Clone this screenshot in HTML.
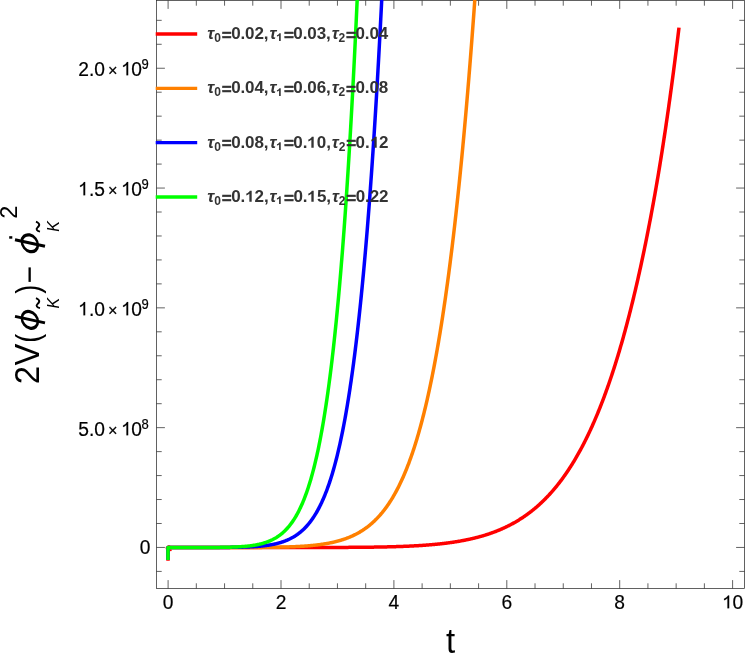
<!DOCTYPE html>
<html><head><meta charset="utf-8"><title>plot</title>
<style>
html,body{margin:0;padding:0;background:#fff;}
#w{position:absolute;left:0;top:0;width:747px;height:655px;will-change:transform}
body{width:747px;height:655px;position:relative;overflow:hidden;font-family:"Liberation Sans",sans-serif;color:#000;}
.leg{position:absolute;left:207.3px;font-weight:bold;font-size:17px;line-height:20px;height:20px;margin-top:-10.0px;color:#333;white-space:nowrap;letter-spacing:-0.1px}
.g1{width:0.5562em;height:0.75em;vertical-align:baseline;overflow:visible;position:relative;top:-0.45px}
.leg i{font-style:italic}
.leg .eq{margin-left:1.0px;margin-right:-0.45px;position:relative;top:1.5px;-webkit-text-stroke:0.45px #333}
.leg .cm{margin-right:1px}
.leg .sb{font-size:12px;position:relative;top:2.9px;}
.yt{position:absolute;right:598.3px;font-size:19.2px;line-height:20px;height:20px;margin-top:-8.05px;white-space:nowrap;-webkit-text-stroke:0.2px #000;transform:scaleY(1.065);transform-origin:50% 16.4px}
.yt .sp{font-size:13px;position:relative;top:-6.7px;margin-left:-0.4px}
.yt .o1{letter-spacing:-1.2px}
.yt .tx{padding:0 3.55px 0 3.0px;font-size:0.85em;position:relative;top:0px}
.xt{position:absolute;top:592.5px;width:60px;margin-left:-30px;text-align:center;font-size:19.2px;line-height:20px;-webkit-text-stroke:0.2px #000;transform:scaleY(1.035);transform-origin:50% 16.4px}
.xlab{position:absolute;left:420.6px;width:60px;text-align:center;top:623.9px;font-size:33px;line-height:36px;transform:scale(1,1.045);transform-origin:50% 31.7px}
.ylab{position:absolute;left:0;top:0;transform-origin:0 0;transform:translate(39.3px,384px) rotate(-90deg);font-size:32.5px;line-height:36px;height:36px;margin-top:0;white-space:nowrap}
</style></head><body><div id="w">
<svg width="747" height="655" viewBox="0 0 747 655" style="position:absolute;left:0;top:0">
<path d="M168.10,588.5 v-8.4 M168.10,0.5 v8.4 M196.32,588.5 v-5.2 M196.32,0.5 v5.2 M224.55,588.5 v-5.2 M224.55,0.5 v5.2 M252.78,588.5 v-5.2 M252.78,0.5 v5.2 M281.00,588.5 v-8.4 M281.00,0.5 v8.4 M309.23,588.5 v-5.2 M309.23,0.5 v5.2 M337.45,588.5 v-5.2 M337.45,0.5 v5.2 M365.68,588.5 v-5.2 M365.68,0.5 v5.2 M393.90,588.5 v-8.4 M393.90,0.5 v8.4 M422.12,588.5 v-5.2 M422.12,0.5 v5.2 M450.35,588.5 v-5.2 M450.35,0.5 v5.2 M478.58,588.5 v-5.2 M478.58,0.5 v5.2 M506.80,588.5 v-8.4 M506.80,0.5 v8.4 M535.02,588.5 v-5.2 M535.02,0.5 v5.2 M563.25,588.5 v-5.2 M563.25,0.5 v5.2 M591.48,588.5 v-5.2 M591.48,0.5 v5.2 M619.70,588.5 v-8.4 M619.70,0.5 v8.4 M647.93,588.5 v-5.2 M647.93,0.5 v5.2 M676.15,588.5 v-5.2 M676.15,0.5 v5.2 M704.38,588.5 v-5.2 M704.38,0.5 v5.2 M732.60,588.5 v-8.4 M732.60,0.5 v8.4 M156.5,571.41 h5.2 M744.5,571.41 h-5.2 M156.5,547.45 h8.4 M744.5,547.45 h-8.4 M156.5,523.49 h5.2 M744.5,523.49 h-5.2 M156.5,499.53 h5.2 M744.5,499.53 h-5.2 M156.5,475.57 h5.2 M744.5,475.57 h-5.2 M156.5,451.61 h5.2 M744.5,451.61 h-5.2 M156.5,427.65 h8.4 M744.5,427.65 h-8.4 M156.5,403.69 h5.2 M744.5,403.69 h-5.2 M156.5,379.73 h5.2 M744.5,379.73 h-5.2 M156.5,355.77 h5.2 M744.5,355.77 h-5.2 M156.5,331.81 h5.2 M744.5,331.81 h-5.2 M156.5,307.85 h8.4 M744.5,307.85 h-8.4 M156.5,283.89 h5.2 M744.5,283.89 h-5.2 M156.5,259.93 h5.2 M744.5,259.93 h-5.2 M156.5,235.97 h5.2 M744.5,235.97 h-5.2 M156.5,212.01 h5.2 M744.5,212.01 h-5.2 M156.5,188.05 h8.4 M744.5,188.05 h-8.4 M156.5,164.09 h5.2 M744.5,164.09 h-5.2 M156.5,140.13 h5.2 M744.5,140.13 h-5.2 M156.5,116.17 h5.2 M744.5,116.17 h-5.2 M156.5,92.21 h5.2 M744.5,92.21 h-5.2 M156.5,68.25 h8.4 M744.5,68.25 h-8.4 M156.5,44.29 h5.2 M744.5,44.29 h-5.2 M156.5,20.33 h5.2 M744.5,20.33 h-5.2" stroke="#262626" stroke-width="0.72" fill="none"/>
<rect x="156.5" y="0.5" width="588.0" height="588.0" fill="none" stroke="#262626" stroke-width="0.72"/>
<defs><clipPath id="c"><rect x="156.5" y="0" width="588.0" height="588.5"/></clipPath></defs>
<path d="M155.7,34.0 H197.2" stroke="#ff0000" stroke-width="3.3" fill="none"/><path d="M155.7,88.3 H197.2" stroke="#ff8000" stroke-width="3.3" fill="none"/><path d="M155.7,142.7 H197.2" stroke="#0000ff" stroke-width="3.3" fill="none"/><path d="M155.7,197.0 H197.2" stroke="#00ff00" stroke-width="3.3" fill="none"/>
<g clip-path="url(#c)" fill="none" stroke-width="3.5" stroke-linejoin="round" stroke-linecap="butt">
<path d="M168.0,560.8 V558" stroke="#ff0000"/><circle cx="170.8" cy="550.3" r="0.95" fill="#ff0000" stroke="none"/><path d="M167.6,545.6 H170.2" stroke="#ff0000" stroke-width="0.7"/><path d="M165.9,547 V549.2" stroke="#ff0000" stroke-width="0.5"/>
<path d="M168.0,560.0 L168.0,547.6 L169.43,547.50 L169.85,547.50 L170.28,547.50 L170.71,547.50 L171.13,547.50 L171.56,547.50 L171.98,547.50 L172.41,547.50 L172.83,547.50 L173.26,547.50 L173.69,547.50 L174.11,547.50 L174.54,547.50 L174.96,547.50 L175.39,547.50 L175.82,547.50 L176.24,547.50 L176.67,547.50 L177.09,547.50 L177.52,547.50 L177.94,547.50 L178.37,547.50 L178.80,547.50 L179.22,547.50 L179.65,547.50 L180.07,547.50 L180.50,547.50 L180.92,547.50 L181.35,547.50 L181.78,547.50 L182.20,547.50 L182.63,547.50 L183.05,547.50 L183.48,547.50 L183.91,547.50 L184.33,547.50 L184.76,547.50 L185.18,547.50 L185.61,547.50 L186.03,547.50 L186.46,547.50 L186.89,547.50 L187.31,547.50 L187.74,547.50 L188.16,547.50 L188.59,547.50 L189.01,547.50 L189.44,547.50 L189.87,547.50 L190.29,547.50 L190.72,547.50 L191.14,547.50 L191.57,547.50 L192.00,547.50 L192.42,547.50 L192.85,547.50 L193.27,547.50 L193.70,547.50 L194.12,547.50 L194.55,547.50 L194.98,547.50 L195.40,547.50 L195.83,547.50 L196.25,547.50 L196.68,547.50 L197.10,547.50 L197.53,547.50 L197.96,547.50 L198.38,547.50 L198.81,547.50 L199.23,547.50 L199.66,547.50 L200.08,547.50 L200.51,547.50 L200.94,547.50 L201.36,547.50 L201.79,547.50 L202.21,547.50 L202.64,547.50 L203.07,547.50 L203.49,547.50 L203.92,547.50 L204.34,547.50 L204.77,547.50 L205.19,547.50 L205.62,547.50 L206.05,547.50 L206.47,547.50 L206.90,547.50 L207.32,547.50 L207.75,547.50 L208.17,547.50 L208.60,547.50 L209.03,547.50 L209.45,547.50 L209.88,547.50 L210.30,547.50 L210.73,547.50 L211.16,547.50 L211.58,547.50 L212.01,547.50 L212.43,547.50 L212.86,547.50 L213.28,547.50 L213.71,547.50 L214.14,547.50 L214.56,547.50 L214.99,547.50 L215.41,547.50 L215.84,547.50 L216.26,547.50 L216.69,547.50 L217.12,547.50 L217.54,547.50 L217.97,547.50 L218.39,547.50 L218.82,547.50 L219.25,547.50 L219.67,547.50 L220.10,547.50 L220.52,547.50 L220.95,547.50 L221.37,547.50 L221.80,547.50 L222.23,547.50 L222.65,547.50 L223.08,547.50 L223.50,547.50 L223.93,547.50 L224.35,547.50 L224.78,547.50 L225.21,547.50 L225.63,547.50 L226.06,547.50 L226.48,547.50 L226.91,547.50 L227.34,547.50 L227.76,547.50 L228.19,547.50 L228.61,547.50 L229.04,547.50 L229.46,547.50 L229.89,547.50 L230.32,547.50 L230.74,547.50 L231.17,547.50 L231.59,547.50 L232.02,547.50 L232.44,547.50 L232.87,547.50 L233.30,547.50 L233.72,547.50 L234.15,547.50 L234.57,547.50 L235.00,547.50 L235.43,547.50 L235.85,547.50 L236.28,547.50 L236.70,547.50 L237.13,547.50 L237.55,547.50 L237.98,547.50 L238.41,547.50 L238.83,547.50 L239.26,547.50 L239.68,547.50 L240.11,547.50 L240.53,547.50 L240.96,547.50 L241.39,547.50 L241.81,547.50 L242.24,547.50 L242.66,547.50 L243.09,547.50 L243.52,547.50 L243.94,547.50 L244.37,547.50 L244.79,547.50 L245.22,547.50 L245.64,547.50 L246.07,547.50 L246.50,547.50 L246.92,547.50 L247.35,547.50 L247.77,547.50 L248.20,547.50 L248.62,547.50 L249.05,547.50 L249.48,547.50 L249.90,547.50 L250.33,547.50 L250.75,547.50 L251.18,547.50 L251.60,547.50 L252.03,547.50 L252.46,547.50 L252.88,547.50 L253.31,547.50 L253.73,547.50 L254.16,547.50 L254.59,547.50 L255.01,547.50 L255.44,547.50 L255.86,547.50 L256.29,547.50 L256.71,547.50 L257.14,547.50 L257.57,547.50 L257.99,547.50 L258.42,547.50 L258.84,547.50 L259.27,547.50 L259.69,547.50 L260.12,547.50 L260.55,547.50 L260.97,547.50 L261.40,547.50 L261.82,547.50 L262.25,547.50 L262.68,547.50 L263.10,547.50 L263.53,547.50 L263.95,547.50 L264.38,547.50 L264.80,547.50 L265.23,547.50 L265.66,547.50 L266.08,547.50 L266.51,547.50 L266.93,547.50 L267.36,547.50 L267.78,547.50 L268.21,547.50 L268.64,547.50 L269.06,547.50 L269.49,547.50 L269.91,547.50 L270.34,547.50 L270.77,547.50 L271.19,547.50 L271.62,547.50 L272.04,547.50 L272.47,547.50 L272.89,547.50 L273.32,547.50 L273.75,547.50 L274.17,547.50 L274.60,547.50 L275.02,547.50 L275.45,547.50 L275.87,547.50 L276.30,547.50 L276.73,547.50 L277.15,547.50 L277.58,547.50 L278.00,547.50 L278.43,547.50 L278.86,547.50 L279.28,547.50 L279.71,547.50 L280.13,547.50 L280.56,547.50 L280.98,547.50 L281.41,547.50 L281.84,547.50 L282.26,547.50 L282.69,547.50 L283.11,547.50 L283.54,547.50 L283.96,547.50 L284.39,547.50 L284.82,547.50 L285.24,547.50 L285.67,547.50 L286.09,547.50 L286.52,547.50 L286.95,547.50 L287.37,547.50 L287.80,547.50 L288.22,547.50 L288.65,547.50 L289.07,547.50 L289.50,547.50 L289.93,547.50 L290.35,547.50 L290.78,547.50 L291.20,547.50 L291.63,547.50 L292.05,547.50 L292.48,547.50 L292.91,547.50 L293.33,547.49 L293.76,547.49 L294.18,547.49 L294.61,547.49 L295.04,547.49 L295.46,547.49 L295.89,547.49 L296.31,547.49 L296.74,547.49 L297.16,547.49 L297.59,547.49 L298.02,547.49 L298.44,547.49 L298.87,547.49 L299.29,547.49 L299.72,547.49 L300.14,547.49 L300.57,547.49 L301.00,547.49 L301.42,547.49 L301.85,547.49 L302.27,547.49 L302.70,547.49 L303.12,547.49 L303.55,547.49 L303.98,547.49 L304.40,547.49 L304.83,547.49 L305.25,547.49 L305.68,547.49 L306.11,547.49 L306.53,547.49 L306.96,547.49 L307.38,547.49 L307.81,547.49 L308.23,547.49 L308.66,547.49 L309.09,547.49 L309.51,547.48 L309.94,547.48 L310.36,547.48 L310.79,547.48 L311.21,547.48 L311.64,547.48 L312.07,547.48 L312.49,547.48 L312.92,547.48 L313.34,547.48 L313.77,547.48 L314.20,547.48 L314.62,547.48 L315.05,547.48 L315.47,547.48 L315.90,547.48 L316.32,547.48 L316.75,547.48 L317.18,547.48 L317.60,547.48 L318.03,547.47 L318.45,547.47 L318.88,547.47 L319.30,547.47 L319.73,547.47 L320.16,547.47 L320.58,547.47 L321.01,547.47 L321.43,547.47 L321.86,547.47 L322.29,547.47 L322.71,547.47 L323.14,547.47 L323.56,547.47 L323.99,547.46 L324.41,547.46 L324.84,547.46 L325.27,547.46 L325.69,547.46 L326.12,547.46 L326.54,547.46 L326.97,547.46 L327.39,547.46 L327.82,547.46 L328.25,547.45 L328.67,547.45 L329.10,547.45 L329.52,547.45 L329.95,547.45 L330.38,547.45 L330.80,547.45 L331.23,547.45 L331.65,547.45 L332.08,547.44 L332.50,547.44 L332.93,547.44 L333.36,547.44 L333.78,547.44 L334.21,547.44 L334.63,547.44 L335.06,547.44 L335.48,547.43 L335.91,547.43 L336.34,547.43 L336.76,547.43 L337.19,547.43 L337.61,547.43 L338.04,547.43 L338.47,547.42 L338.89,547.42 L339.32,547.42 L339.74,547.42 L340.17,547.42 L340.59,547.41 L341.02,547.41 L341.45,547.41 L341.87,547.41 L342.30,547.41 L342.72,547.41 L343.15,547.40 L343.57,547.40 L344.00,547.40 L344.43,547.40 L344.85,547.40 L345.28,547.39 L345.70,547.39 L346.13,547.39 L346.56,547.39 L346.98,547.38 L347.41,547.38 L347.83,547.38 L348.26,547.38 L348.68,547.37 L349.11,547.37 L349.54,547.37 L349.96,547.37 L350.39,547.36 L350.81,547.36 L351.24,547.36 L351.66,547.36 L352.09,547.35 L352.52,547.35 L352.94,547.35 L353.37,547.34 L353.79,547.34 L354.22,547.34 L354.64,547.34 L355.07,547.33 L355.50,547.33 L355.92,547.33 L356.35,547.32 L356.77,547.32 L357.20,547.32 L357.63,547.31 L358.05,547.31 L358.48,547.30 L358.90,547.30 L359.33,547.30 L359.75,547.29 L360.18,547.29 L360.61,547.29 L361.03,547.28 L361.46,547.28 L361.88,547.27 L362.31,547.27 L362.73,547.26 L363.16,547.26 L363.59,547.26 L364.01,547.25 L364.44,547.25 L364.86,547.24 L365.29,547.24 L365.72,547.23 L366.14,547.23 L366.57,547.22 L366.99,547.22 L367.42,547.21 L367.84,547.21 L368.27,547.20 L368.70,547.20 L369.12,547.19 L369.55,547.19 L369.97,547.18 L370.40,547.18 L370.82,547.17 L371.25,547.16 L371.68,547.16 L372.10,547.15 L372.53,547.15 L372.95,547.14 L373.38,547.13 L373.81,547.13 L374.23,547.12 L374.66,547.11 L375.08,547.11 L375.51,547.10 L375.93,547.09 L376.36,547.09 L376.79,547.08 L377.21,547.07 L377.64,547.07 L378.06,547.06 L378.49,547.05 L378.91,547.04 L379.34,547.04 L379.77,547.03 L380.19,547.02 L380.62,547.01 L381.04,547.00 L381.47,547.00 L381.90,546.99 L382.32,546.98 L382.75,546.97 L383.17,546.96 L383.60,546.95 L384.02,546.94 L384.45,546.93 L384.88,546.92 L385.30,546.92 L385.73,546.91 L386.15,546.90 L386.58,546.89 L387.00,546.88 L387.43,546.87 L387.86,546.86 L388.28,546.85 L388.71,546.84 L389.13,546.82 L389.56,546.81 L389.99,546.80 L390.41,546.79 L390.84,546.78 L391.26,546.77 L391.69,546.76 L392.11,546.75 L392.54,546.73 L392.97,546.72 L393.39,546.71 L393.82,546.70 L394.24,546.69 L394.67,546.67 L395.09,546.66 L395.52,546.65 L395.95,546.63 L396.37,546.62 L396.80,546.61 L397.22,546.59 L397.65,546.58 L398.08,546.57 L398.50,546.55 L398.93,546.54 L399.35,546.52 L399.78,546.51 L400.20,546.49 L400.63,546.48 L401.06,546.46 L401.48,546.45 L401.91,546.43 L402.33,546.41 L402.76,546.40 L403.18,546.38 L403.61,546.36 L404.04,546.35 L404.46,546.33 L404.89,546.31 L405.31,546.30 L405.74,546.28 L406.16,546.26 L406.59,546.24 L407.02,546.22 L407.44,546.21 L407.87,546.19 L408.29,546.17 L408.72,546.15 L409.15,546.13 L409.57,546.11 L410.00,546.09 L410.42,546.07 L410.85,546.05 L411.27,546.03 L411.70,546.01 L412.13,545.98 L412.55,545.96 L412.98,545.94 L413.40,545.92 L413.83,545.90 L414.25,545.87 L414.68,545.85 L415.11,545.83 L415.53,545.80 L415.96,545.78 L416.38,545.76 L416.81,545.73 L417.24,545.71 L417.66,545.68 L418.09,545.66 L418.51,545.63 L418.94,545.60 L419.36,545.58 L419.79,545.55 L420.22,545.52 L420.64,545.50 L421.07,545.47 L421.49,545.44 L421.92,545.41 L422.34,545.39 L422.77,545.36 L423.20,545.33 L423.62,545.30 L424.05,545.27 L424.47,545.24 L424.90,545.21 L425.33,545.18 L425.75,545.14 L426.18,545.11 L426.60,545.08 L427.03,545.05 L427.45,545.02 L427.88,544.98 L428.31,544.95 L428.73,544.92 L429.16,544.88 L429.58,544.85 L430.01,544.81 L430.43,544.78 L430.86,544.74 L431.29,544.70 L431.71,544.67 L432.14,544.63 L432.56,544.59 L432.99,544.55 L433.42,544.52 L433.84,544.48 L434.27,544.44 L434.69,544.40 L435.12,544.36 L435.54,544.32 L435.97,544.28 L436.40,544.24 L436.82,544.19 L437.25,544.15 L437.67,544.11 L438.10,544.07 L438.52,544.02 L438.95,543.98 L439.38,543.93 L439.80,543.89 L440.23,543.84 L440.65,543.79 L441.08,543.75 L441.51,543.70 L441.93,543.65 L442.36,543.60 L442.78,543.56 L443.21,543.51 L443.63,543.46 L444.06,543.41 L444.49,543.36 L444.91,543.30 L445.34,543.25 L445.76,543.20 L446.19,543.15 L446.61,543.09 L447.04,543.04 L447.47,542.98 L447.89,542.93 L448.32,542.87 L448.74,542.81 L449.17,542.76 L449.60,542.70 L450.02,542.64 L450.45,542.58 L450.87,542.52 L451.30,542.46 L451.72,542.40 L452.15,542.34 L452.58,542.28 L453.00,542.21 L453.43,542.15 L453.85,542.09 L454.28,542.02 L454.70,541.96 L455.13,541.89 L455.56,541.82 L455.98,541.75 L456.41,541.69 L456.83,541.62 L457.26,541.55 L457.68,541.48 L458.11,541.41 L458.54,541.33 L458.96,541.26 L459.39,541.19 L459.81,541.11 L460.24,541.04 L460.67,540.96 L461.09,540.89 L461.52,540.81 L461.94,540.73 L462.37,540.65 L462.79,540.57 L463.22,540.49 L463.65,540.41 L464.07,540.33 L464.50,540.25 L464.92,540.17 L465.35,540.08 L465.77,540.00 L466.20,539.91 L466.63,539.82 L467.05,539.74 L467.48,539.65 L467.90,539.56 L468.33,539.47 L468.76,539.38 L469.18,539.28 L469.61,539.19 L470.03,539.10 L470.46,539.00 L470.88,538.91 L471.31,538.81 L471.74,538.71 L472.16,538.61 L472.59,538.51 L473.01,538.41 L473.44,538.31 L473.86,538.21 L474.29,538.11 L474.72,538.00 L475.14,537.90 L475.57,537.79 L475.99,537.68 L476.42,537.57 L476.85,537.46 L477.27,537.35 L477.70,537.24 L478.12,537.13 L478.55,537.02 L478.97,536.90 L479.40,536.79 L479.83,536.67 L480.25,536.55 L480.68,536.43 L481.10,536.31 L481.53,536.19 L481.95,536.07 L482.38,535.94 L482.81,535.82 L483.23,535.69 L483.66,535.57 L484.08,535.44 L484.51,535.31 L484.94,535.18 L485.36,535.04 L485.79,534.91 L486.21,534.78 L486.64,534.64 L487.06,534.50 L487.49,534.37 L487.92,534.23 L488.34,534.09 L488.77,533.94 L489.19,533.80 L489.62,533.66 L490.04,533.51 L490.47,533.36 L490.90,533.21 L491.32,533.06 L491.75,532.91 L492.17,532.76 L492.60,532.61 L493.03,532.45 L493.45,532.29 L493.88,532.14 L494.30,531.98 L494.73,531.82 L495.15,531.65 L495.58,531.49 L496.01,531.32 L496.43,531.16 L496.86,530.99 L497.28,530.82 L497.71,530.65 L498.13,530.47 L498.56,530.30 L498.99,530.12 L499.41,529.95 L499.84,529.77 L500.26,529.59 L500.69,529.40 L501.12,529.22 L501.54,529.04 L501.97,528.85 L502.39,528.66 L502.82,528.47 L503.24,528.28 L503.67,528.08 L504.10,527.89 L504.52,527.69 L504.95,527.49 L505.37,527.29 L505.80,527.09 L506.22,526.89 L506.65,526.68 L507.08,526.47 L507.50,526.26 L507.93,526.05 L508.35,525.84 L508.78,525.62 L509.20,525.41 L509.63,525.19 L510.06,524.97 L510.48,524.75 L510.91,524.52 L511.33,524.30 L511.76,524.07 L512.19,523.84 L512.61,523.61 L513.04,523.37 L513.46,523.14 L513.89,522.90 L514.31,522.66 L514.74,522.42 L515.17,522.18 L515.59,521.93 L516.02,521.68 L516.44,521.43 L516.87,521.18 L517.29,520.93 L517.72,520.67 L518.15,520.41 L518.57,520.15 L519.00,519.89 L519.42,519.62 L519.85,519.36 L520.28,519.09 L520.70,518.82 L521.13,518.54 L521.55,518.27 L521.98,517.99 L522.40,517.71 L522.83,517.43 L523.26,517.14 L523.68,516.85 L524.11,516.56 L524.53,516.27 L524.96,515.98 L525.38,515.68 L525.81,515.38 L526.24,515.08 L526.66,514.78 L527.09,514.47 L527.51,514.16 L527.94,513.85 L528.37,513.54 L528.79,513.22 L529.22,512.90 L529.64,512.58 L530.07,512.25 L530.49,511.93 L530.92,511.60 L531.35,511.27 L531.77,510.93 L532.20,510.59 L532.62,510.25 L533.05,509.91 L533.47,509.56 L533.90,509.22 L534.33,508.87 L534.75,508.51 L535.18,508.16 L535.60,507.80 L536.03,507.43 L536.46,507.07 L536.88,506.70 L537.31,506.33 L537.73,505.96 L538.16,505.58 L538.58,505.20 L539.01,504.82 L539.44,504.43 L539.86,504.04 L540.29,503.65 L540.71,503.26 L541.14,502.86 L541.56,502.46 L541.99,502.05 L542.42,501.65 L542.84,501.24 L543.27,500.82 L543.69,500.41 L544.12,499.99 L544.55,499.56 L544.97,499.14 L545.40,498.71 L545.82,498.28 L546.25,497.84 L546.67,497.40 L547.10,496.96 L547.53,496.51 L547.95,496.06 L548.38,495.61 L548.80,495.15 L549.23,494.69 L549.65,494.23 L550.08,493.76 L550.51,493.29 L550.93,492.82 L551.36,492.34 L551.78,491.86 L552.21,491.37 L552.64,490.89 L553.06,490.39 L553.49,489.90 L553.91,489.40 L554.34,488.90 L554.76,488.39 L555.19,487.88 L555.62,487.36 L556.04,486.85 L556.47,486.32 L556.89,485.80 L557.32,485.27 L557.74,484.73 L558.17,484.20 L558.60,483.65 L559.02,483.11 L559.45,482.56 L559.87,482.00 L560.30,481.45 L560.72,480.88 L561.15,480.32 L561.58,479.75 L562.00,479.17 L562.43,478.59 L562.85,478.01 L563.28,477.42 L563.71,476.83 L564.13,476.24 L564.56,475.64 L564.98,475.03 L565.41,474.42 L565.83,473.81 L566.26,473.19 L566.69,472.57 L567.11,471.94 L567.54,471.31 L567.96,470.68 L568.39,470.04 L568.81,469.39 L569.24,468.74 L569.67,468.09 L570.09,467.43 L570.52,466.76 L570.94,466.10 L571.37,465.42 L571.80,464.74 L572.22,464.06 L572.65,463.37 L573.07,462.68 L573.50,461.98 L573.92,461.28 L574.35,460.57 L574.78,459.86 L575.20,459.14 L575.63,458.42 L576.05,457.69 L576.48,456.96 L576.90,456.22 L577.33,455.48 L577.76,454.73 L578.18,453.98 L578.61,453.22 L579.03,452.45 L579.46,451.69 L579.89,450.91 L580.31,450.13 L580.74,449.34 L581.16,448.55 L581.59,447.76 L582.01,446.95 L582.44,446.15 L582.87,445.33 L583.29,444.51 L583.72,443.69 L584.14,442.86 L584.57,442.02 L584.99,441.18 L585.42,440.33 L585.85,439.48 L586.27,438.62 L586.70,437.75 L587.12,436.88 L587.55,436.01 L587.98,435.12 L588.40,434.23 L588.83,433.34 L589.25,432.44 L589.68,431.53 L590.10,430.62 L590.53,429.70 L590.96,428.77 L591.38,427.84 L591.81,426.90 L592.23,425.95 L592.66,425.00 L593.08,424.04 L593.51,423.08 L593.94,422.11 L594.36,421.13 L594.79,420.15 L595.21,419.16 L595.64,418.16 L596.07,417.16 L596.49,416.14 L596.92,415.13 L597.34,414.10 L597.77,413.07 L598.19,412.03 L598.62,410.99 L599.05,409.94 L599.47,408.88 L599.90,407.81 L600.32,406.74 L600.75,405.66 L601.17,404.57 L601.60,403.48 L602.03,402.38 L602.45,401.27 L602.88,400.15 L603.30,399.03 L603.73,397.90 L604.16,396.76 L604.58,395.61 L605.01,394.46 L605.43,393.30 L605.86,392.13 L606.28,390.95 L606.71,389.77 L607.14,388.58 L607.56,387.38 L607.99,386.17 L608.41,384.96 L608.84,383.73 L609.26,382.50 L609.69,381.26 L610.12,380.02 L610.54,378.76 L610.97,377.50 L611.39,376.23 L611.82,374.95 L612.24,373.66 L612.67,372.36 L613.10,371.06 L613.52,369.75 L613.95,368.43 L614.37,367.10 L614.80,365.76 L615.23,364.41 L615.65,363.06 L616.08,361.69 L616.50,360.32 L616.93,358.94 L617.35,357.55 L617.78,356.15 L618.21,354.74 L618.63,353.33 L619.06,351.90 L619.48,350.46 L619.91,349.02 L620.33,347.57 L620.76,346.11 L621.19,344.63 L621.61,343.15 L622.04,341.66 L622.46,340.16 L622.89,338.66 L623.32,337.14 L623.74,335.61 L624.17,334.07 L624.59,332.52 L625.02,330.97 L625.44,329.40 L625.87,327.83 L626.30,326.24 L626.72,324.64 L627.15,323.04 L627.57,321.42 L628.00,319.80 L628.42,318.16 L628.85,316.51 L629.28,314.86 L629.70,313.19 L630.13,311.51 L630.55,309.83 L630.98,308.13 L631.41,306.42 L631.83,304.70 L632.26,302.97 L632.68,301.23 L633.11,299.48 L633.53,297.72 L633.96,295.95 L634.39,294.17 L634.81,292.37 L635.24,290.57 L635.66,288.75 L636.09,286.93 L636.51,285.09 L636.94,283.24 L637.37,281.38 L637.79,279.51 L638.22,277.62 L638.64,275.73 L639.07,273.82 L639.50,271.91 L639.92,269.98 L640.35,268.04 L640.77,266.08 L641.20,264.12 L641.62,262.14 L642.05,260.16 L642.48,258.16 L642.90,256.14 L643.33,254.12 L643.75,252.08 L644.18,250.04 L644.60,247.98 L645.03,245.90 L645.46,243.82 L645.88,241.72 L646.31,239.61 L646.73,237.49 L647.16,235.35 L647.59,233.20 L648.01,231.04 L648.44,228.87 L648.86,226.68 L649.29,224.48 L649.71,222.27 L650.14,220.05 L650.57,217.81 L650.99,215.56 L651.42,213.29 L651.84,211.01 L652.27,208.72 L652.69,206.42 L653.12,204.10 L653.55,201.76 L653.97,199.42 L654.40,197.06 L654.82,194.68 L655.24,192.30 L655.66,189.90 L656.08,187.48 L656.50,185.05 L656.92,182.61 L657.34,180.15 L657.76,177.68 L658.18,175.19 L658.60,172.69 L659.01,170.17 L659.43,167.64 L659.85,165.10 L660.26,162.54 L660.68,159.96 L661.09,157.38 L661.51,154.77 L661.92,152.15 L662.34,149.52 L662.75,146.87 L663.16,144.21 L663.58,141.53 L663.99,138.83 L664.40,136.12 L664.81,133.39 L665.22,130.65 L665.64,127.89 L666.05,125.12 L666.46,122.33 L666.87,119.53 L667.28,116.71 L667.69,113.87 L668.10,111.02 L668.50,108.15 L668.91,105.26 L669.32,102.36 L669.73,99.44 L670.13,96.51 L670.54,93.56 L670.95,90.59 L671.35,87.61 L671.76,84.60 L672.16,81.59 L672.57,78.55 L672.97,75.50 L673.38,72.43 L673.78,69.34 L674.18,66.24 L674.59,63.12 L674.99,59.98 L675.39,56.82 L675.79,53.65 L676.19,50.46 L676.59,47.25 L677.00,44.02 L677.40,40.77 L677.80,37.51 L678.19,34.23 L678.59,30.93 L678.99,27.61" stroke="#ff0000"/>
<path d="M168.0,560.0 L168.0,547.6 L169.43,547.50 L169.90,547.50 L170.37,547.50 L170.84,547.50 L171.31,547.50 L171.78,547.50 L172.25,547.50 L172.72,547.50 L173.19,547.50 L173.65,547.50 L174.12,547.50 L174.59,547.50 L175.06,547.50 L175.53,547.50 L176.00,547.50 L176.47,547.50 L176.94,547.50 L177.41,547.50 L177.88,547.50 L178.35,547.50 L178.82,547.50 L179.29,547.50 L179.76,547.50 L180.23,547.50 L180.70,547.50 L181.17,547.50 L181.64,547.50 L182.11,547.50 L182.58,547.50 L183.05,547.50 L183.52,547.50 L183.99,547.50 L184.46,547.50 L184.93,547.50 L185.40,547.50 L185.87,547.50 L186.33,547.50 L186.80,547.50 L187.27,547.50 L187.74,547.50 L188.21,547.50 L188.68,547.50 L189.15,547.50 L189.62,547.50 L190.09,547.50 L190.56,547.50 L191.03,547.50 L191.50,547.50 L191.97,547.50 L192.44,547.50 L192.91,547.50 L193.38,547.50 L193.85,547.50 L194.32,547.50 L194.79,547.50 L195.26,547.50 L195.73,547.50 L196.20,547.50 L196.67,547.50 L197.14,547.50 L197.61,547.50 L198.08,547.50 L198.54,547.50 L199.01,547.50 L199.48,547.50 L199.95,547.50 L200.42,547.50 L200.89,547.50 L201.36,547.50 L201.83,547.50 L202.30,547.50 L202.77,547.50 L203.24,547.50 L203.71,547.50 L204.18,547.50 L204.65,547.50 L205.12,547.50 L205.59,547.50 L206.06,547.50 L206.53,547.50 L207.00,547.50 L207.47,547.50 L207.94,547.50 L208.41,547.50 L208.88,547.50 L209.35,547.50 L209.82,547.50 L210.29,547.50 L210.75,547.50 L211.22,547.50 L211.69,547.50 L212.16,547.50 L212.63,547.50 L213.10,547.50 L213.57,547.50 L214.04,547.50 L214.51,547.50 L214.98,547.50 L215.45,547.50 L215.92,547.50 L216.39,547.50 L216.86,547.50 L217.33,547.50 L217.80,547.50 L218.27,547.50 L218.74,547.50 L219.21,547.50 L219.68,547.50 L220.15,547.50 L220.62,547.50 L221.09,547.50 L221.56,547.49 L222.03,547.49 L222.50,547.49 L222.96,547.49 L223.43,547.49 L223.90,547.49 L224.37,547.49 L224.84,547.49 L225.31,547.49 L225.78,547.49 L226.25,547.49 L226.72,547.49 L227.19,547.49 L227.66,547.49 L228.13,547.49 L228.60,547.49 L229.07,547.49 L229.54,547.49 L230.01,547.49 L230.48,547.49 L230.95,547.49 L231.42,547.49 L231.89,547.49 L232.36,547.49 L232.83,547.49 L233.30,547.49 L233.77,547.48 L234.24,547.48 L234.71,547.48 L235.17,547.48 L235.64,547.48 L236.11,547.48 L236.58,547.48 L237.05,547.48 L237.52,547.48 L237.99,547.48 L238.46,547.48 L238.93,547.48 L239.40,547.48 L239.87,547.48 L240.34,547.47 L240.81,547.47 L241.28,547.47 L241.75,547.47 L242.22,547.47 L242.69,547.47 L243.16,547.47 L243.63,547.47 L244.10,547.47 L244.57,547.46 L245.04,547.46 L245.51,547.46 L245.98,547.46 L246.45,547.46 L246.92,547.46 L247.38,547.46 L247.85,547.45 L248.32,547.45 L248.79,547.45 L249.26,547.45 L249.73,547.45 L250.20,547.45 L250.67,547.44 L251.14,547.44 L251.61,547.44 L252.08,547.44 L252.55,547.44 L253.02,547.43 L253.49,547.43 L253.96,547.43 L254.43,547.43 L254.90,547.42 L255.37,547.42 L255.84,547.42 L256.31,547.42 L256.78,547.41 L257.25,547.41 L257.72,547.41 L258.19,547.41 L258.66,547.40 L259.13,547.40 L259.59,547.40 L260.06,547.39 L260.53,547.39 L261.00,547.39 L261.47,547.38 L261.94,547.38 L262.41,547.37 L262.88,547.37 L263.35,547.37 L263.82,547.36 L264.29,547.36 L264.76,547.35 L265.23,547.35 L265.70,547.34 L266.17,547.34 L266.64,547.33 L267.11,547.33 L267.58,547.32 L268.05,547.32 L268.52,547.31 L268.99,547.31 L269.46,547.30 L269.93,547.30 L270.40,547.29 L270.87,547.28 L271.34,547.28 L271.81,547.27 L272.27,547.27 L272.74,547.26 L273.21,547.25 L273.68,547.24 L274.15,547.24 L274.62,547.23 L275.09,547.22 L275.56,547.21 L276.03,547.21 L276.50,547.20 L276.97,547.19 L277.44,547.18 L277.91,547.17 L278.38,547.16 L278.85,547.15 L279.32,547.14 L279.79,547.13 L280.26,547.12 L280.73,547.11 L281.20,547.10 L281.67,547.09 L282.14,547.08 L282.61,547.07 L283.08,547.06 L283.55,547.04 L284.02,547.03 L284.48,547.02 L284.95,547.01 L285.42,546.99 L285.89,546.98 L286.36,546.97 L286.83,546.95 L287.30,546.94 L287.77,546.92 L288.24,546.91 L288.71,546.89 L289.18,546.88 L289.65,546.86 L290.12,546.84 L290.59,546.83 L291.06,546.81 L291.53,546.79 L292.00,546.77 L292.47,546.76 L292.94,546.74 L293.41,546.72 L293.88,546.70 L294.35,546.68 L294.82,546.66 L295.29,546.63 L295.76,546.61 L296.23,546.59 L296.69,546.57 L297.16,546.54 L297.63,546.52 L298.10,546.50 L298.57,546.47 L299.04,546.45 L299.51,546.42 L299.98,546.39 L300.45,546.37 L300.92,546.34 L301.39,546.31 L301.86,546.28 L302.33,546.25 L302.80,546.22 L303.27,546.19 L303.74,546.16 L304.21,546.13 L304.68,546.10 L305.15,546.06 L305.62,546.03 L306.09,546.00 L306.56,545.96 L307.03,545.92 L307.50,545.89 L307.97,545.85 L308.44,545.81 L308.90,545.77 L309.37,545.73 L309.84,545.69 L310.31,545.65 L310.78,545.61 L311.25,545.56 L311.72,545.52 L312.19,545.47 L312.66,545.43 L313.13,545.38 L313.60,545.33 L314.07,545.28 L314.54,545.23 L315.01,545.18 L315.48,545.13 L315.95,545.08 L316.42,545.03 L316.89,544.97 L317.36,544.91 L317.83,544.86 L318.30,544.80 L318.77,544.74 L319.24,544.68 L319.71,544.62 L320.18,544.55 L320.65,544.49 L321.11,544.42 L321.58,544.36 L322.05,544.29 L322.52,544.22 L322.99,544.15 L323.46,544.08 L323.93,544.00 L324.40,543.93 L324.87,543.85 L325.34,543.77 L325.81,543.70 L326.28,543.62 L326.75,543.53 L327.22,543.45 L327.69,543.36 L328.16,543.28 L328.63,543.19 L329.10,543.10 L329.57,543.01 L330.04,542.91 L330.51,542.82 L330.98,542.72 L331.45,542.62 L331.92,542.52 L332.39,542.42 L332.86,542.32 L333.32,542.21 L333.79,542.10 L334.26,541.99 L334.73,541.88 L335.20,541.77 L335.67,541.65 L336.14,541.53 L336.61,541.41 L337.08,541.29 L337.55,541.17 L338.02,541.04 L338.49,540.91 L338.96,540.78 L339.43,540.65 L339.90,540.51 L340.37,540.37 L340.84,540.23 L341.31,540.09 L341.78,539.94 L342.25,539.80 L342.72,539.65 L343.19,539.49 L343.66,539.34 L344.13,539.18 L344.60,539.02 L345.07,538.85 L345.54,538.69 L346.00,538.52 L346.47,538.34 L346.94,538.17 L347.41,537.99 L347.88,537.81 L348.35,537.62 L348.82,537.44 L349.29,537.24 L349.76,537.05 L350.23,536.85 L350.70,536.65 L351.17,536.45 L351.64,536.24 L352.11,536.03 L352.58,535.82 L353.05,535.60 L353.52,535.38 L353.99,535.15 L354.46,534.92 L354.93,534.69 L355.40,534.45 L355.87,534.21 L356.34,533.97 L356.81,533.72 L357.28,533.47 L357.75,533.21 L358.21,532.95 L358.68,532.69 L359.15,532.42 L359.62,532.14 L360.09,531.87 L360.56,531.59 L361.03,531.30 L361.50,531.01 L361.97,530.71 L362.44,530.41 L362.91,530.11 L363.38,529.80 L363.85,529.48 L364.32,529.16 L364.79,528.84 L365.26,528.51 L365.73,528.17 L366.20,527.83 L366.67,527.48 L367.14,527.13 L367.61,526.78 L368.08,526.41 L368.55,526.05 L369.02,525.67 L369.49,525.29 L369.96,524.91 L370.42,524.52 L370.89,524.12 L371.36,523.72 L371.83,523.31 L372.30,522.89 L372.77,522.47 L373.24,522.04 L373.71,521.61 L374.18,521.17 L374.65,520.72 L375.12,520.27 L375.59,519.81 L376.06,519.34 L376.53,518.86 L377.00,518.38 L377.47,517.89 L377.94,517.39 L378.41,516.89 L378.88,516.38 L379.35,515.86 L379.82,515.33 L380.29,514.80 L380.76,514.25 L381.23,513.70 L381.70,513.14 L382.17,512.58 L382.63,512.00 L383.10,511.42 L383.57,510.82 L384.04,510.22 L384.51,509.61 L384.98,509.00 L385.45,508.37 L385.92,507.73 L386.39,507.09 L386.86,506.43 L387.33,505.77 L387.80,505.10 L388.27,504.41 L388.74,503.72 L389.21,503.02 L389.68,502.30 L390.15,501.58 L390.62,500.85 L391.09,500.10 L391.56,499.35 L392.03,498.58 L392.50,497.81 L392.97,497.02 L393.44,496.22 L393.91,495.42 L394.38,494.60 L394.84,493.77 L395.31,492.92 L395.78,492.07 L396.25,491.20 L396.72,490.32 L397.19,489.43 L397.66,488.53 L398.13,487.61 L398.60,486.69 L399.07,485.75 L399.54,484.79 L400.01,483.82 L400.48,482.85 L400.95,481.85 L401.42,480.85 L401.89,479.82 L402.36,478.79 L402.83,477.74 L403.30,476.68 L403.77,475.60 L404.24,474.51 L404.71,473.41 L405.18,472.29 L405.65,471.15 L406.12,470.00 L406.59,468.83 L407.05,467.65 L407.52,466.45 L407.99,465.24 L408.46,464.01 L408.93,462.76 L409.40,461.50 L409.87,460.22 L410.34,458.93 L410.81,457.61 L411.28,456.28 L411.75,454.94 L412.22,453.57 L412.69,452.19 L413.16,450.79 L413.63,449.37 L414.10,447.93 L414.57,446.47 L415.04,445.00 L415.51,443.50 L415.98,441.99 L416.45,440.46 L416.92,438.90 L417.39,437.33 L417.86,435.74 L418.33,434.12 L418.80,432.49 L419.27,430.83 L419.73,429.16 L420.20,427.46 L420.67,425.74 L421.14,424.00 L421.61,422.24 L422.08,420.45 L422.55,418.64 L423.02,416.81 L423.49,414.96 L423.96,413.08 L424.43,411.18 L424.90,409.26 L425.37,407.31 L425.84,405.33 L426.31,403.34 L426.78,401.31 L427.25,399.27 L427.72,397.19 L428.19,395.10 L428.66,392.97 L429.13,390.82 L429.60,388.64 L430.07,386.44 L430.54,384.21 L431.01,381.95 L431.48,379.66 L431.94,377.35 L432.41,375.01 L432.88,372.63 L433.35,370.23 L433.82,367.81 L434.29,365.35 L434.76,362.86 L435.23,360.34 L435.70,357.79 L436.17,355.21 L436.64,352.60 L437.11,349.96 L437.58,347.28 L438.05,344.58 L438.52,341.84 L438.99,339.07 L439.46,336.26 L439.93,333.43 L440.40,330.55 L440.87,327.65 L441.34,324.71 L441.81,321.73 L442.28,318.72 L442.75,315.68 L443.22,312.59 L443.69,309.48 L444.15,306.32 L444.62,303.13 L445.09,299.90 L445.56,296.63 L446.03,293.33 L446.50,289.98 L446.97,286.60 L447.44,283.18 L447.91,279.72 L448.38,276.21 L448.85,272.67 L449.32,269.09 L449.79,265.46 L450.26,261.79 L450.73,258.09 L451.20,254.33 L451.67,250.54 L452.14,246.70 L452.61,242.82 L453.08,238.89 L453.55,234.92 L454.02,230.90 L454.49,226.84 L454.96,222.73 L455.43,218.57 L455.90,214.37 L456.36,210.12 L456.83,205.82 L457.30,201.47 L457.77,197.08 L458.24,192.63 L458.71,188.13 L459.18,183.59 L459.65,178.99 L460.12,174.34 L460.59,169.64 L461.06,164.89 L461.53,160.08 L462.00,155.22 L462.47,150.31 L462.94,145.34 L463.41,140.32 L463.88,135.24 L464.35,130.10 L464.82,124.91 L465.29,119.66 L465.76,114.36 L466.23,108.99 L466.70,103.57 L467.17,98.08 L467.64,92.54 L468.11,86.94 L468.57,81.27 L469.04,75.54 L469.51,69.75 L469.98,63.90 L470.45,57.99 L470.92,52.01 L471.39,45.96 L471.86,39.85 L472.33,33.68 L472.80,27.43 L473.27,21.12 L473.74,14.75 L474.21,8.30 L474.68,1.78 L475.15,-4.80 L475.62,-11.46 L476.09,-18.18" stroke="#ff8000"/>
<path d="M168.0,560.0 L168.0,547.6 L169.43,547.50 L169.90,547.50 L170.37,547.50 L170.84,547.50 L171.31,547.50 L171.78,547.50 L172.25,547.50 L172.72,547.50 L173.19,547.50 L173.65,547.50 L174.12,547.50 L174.59,547.50 L175.06,547.50 L175.53,547.50 L176.00,547.50 L176.47,547.50 L176.94,547.50 L177.41,547.50 L177.88,547.50 L178.35,547.50 L178.82,547.50 L179.29,547.50 L179.76,547.50 L180.23,547.50 L180.70,547.50 L181.17,547.50 L181.64,547.50 L182.11,547.50 L182.58,547.50 L183.05,547.50 L183.52,547.50 L183.99,547.50 L184.46,547.50 L184.93,547.50 L185.40,547.50 L185.87,547.50 L186.33,547.50 L186.80,547.50 L187.27,547.50 L187.74,547.50 L188.21,547.50 L188.68,547.50 L189.15,547.50 L189.62,547.50 L190.09,547.50 L190.56,547.50 L191.03,547.50 L191.50,547.50 L191.97,547.50 L192.44,547.50 L192.91,547.50 L193.38,547.50 L193.85,547.50 L194.32,547.50 L194.79,547.50 L195.26,547.50 L195.73,547.50 L196.20,547.50 L196.67,547.50 L197.14,547.50 L197.61,547.50 L198.08,547.50 L198.54,547.50 L199.01,547.50 L199.48,547.50 L199.95,547.50 L200.42,547.49 L200.89,547.49 L201.36,547.49 L201.83,547.49 L202.30,547.49 L202.77,547.49 L203.24,547.49 L203.71,547.49 L204.18,547.49 L204.65,547.49 L205.12,547.49 L205.59,547.49 L206.06,547.49 L206.53,547.49 L207.00,547.49 L207.47,547.49 L207.94,547.49 L208.41,547.49 L208.88,547.49 L209.35,547.48 L209.82,547.48 L210.29,547.48 L210.75,547.48 L211.22,547.48 L211.69,547.48 L212.16,547.48 L212.63,547.48 L213.10,547.48 L213.57,547.48 L214.04,547.47 L214.51,547.47 L214.98,547.47 L215.45,547.47 L215.92,547.47 L216.39,547.47 L216.86,547.47 L217.33,547.46 L217.80,547.46 L218.27,547.46 L218.74,547.46 L219.21,547.46 L219.68,547.45 L220.15,547.45 L220.62,547.45 L221.09,547.45 L221.56,547.45 L222.03,547.44 L222.50,547.44 L222.96,547.44 L223.43,547.43 L223.90,547.43 L224.37,547.43 L224.84,547.42 L225.31,547.42 L225.78,547.42 L226.25,547.41 L226.72,547.41 L227.19,547.41 L227.66,547.40 L228.13,547.40 L228.60,547.39 L229.07,547.39 L229.54,547.38 L230.01,547.38 L230.48,547.37 L230.95,547.37 L231.42,547.36 L231.89,547.36 L232.36,547.35 L232.83,547.34 L233.30,547.34 L233.77,547.33 L234.24,547.32 L234.71,547.32 L235.17,547.31 L235.64,547.30 L236.11,547.29 L236.58,547.28 L237.05,547.28 L237.52,547.27 L237.99,547.26 L238.46,547.25 L238.93,547.24 L239.40,547.23 L239.87,547.22 L240.34,547.20 L240.81,547.19 L241.28,547.18 L241.75,547.17 L242.22,547.16 L242.69,547.14 L243.16,547.13 L243.63,547.11 L244.10,547.10 L244.57,547.09 L245.04,547.07 L245.51,547.05 L245.98,547.04 L246.45,547.02 L246.92,547.00 L247.38,546.98 L247.85,546.96 L248.32,546.94 L248.79,546.92 L249.26,546.90 L249.73,546.88 L250.20,546.86 L250.67,546.84 L251.14,546.81 L251.61,546.79 L252.08,546.76 L252.55,546.74 L253.02,546.71 L253.49,546.68 L253.96,546.65 L254.43,546.62 L254.90,546.59 L255.37,546.56 L255.84,546.53 L256.31,546.49 L256.78,546.46 L257.25,546.42 L257.72,546.39 L258.19,546.35 L258.66,546.31 L259.13,546.27 L259.59,546.23 L260.06,546.19 L260.53,546.14 L261.00,546.10 L261.47,546.05 L261.94,546.01 L262.41,545.96 L262.88,545.91 L263.35,545.85 L263.82,545.80 L264.29,545.75 L264.76,545.69 L265.23,545.63 L265.70,545.57 L266.17,545.51 L266.64,545.45 L267.11,545.38 L267.58,545.31 L268.05,545.24 L268.52,545.17 L268.99,545.10 L269.46,545.03 L269.93,544.95 L270.40,544.87 L270.87,544.79 L271.34,544.71 L271.81,544.62 L272.27,544.53 L272.74,544.44 L273.21,544.35 L273.68,544.25 L274.15,544.16 L274.62,544.06 L275.09,543.95 L275.56,543.85 L276.03,543.74 L276.50,543.63 L276.97,543.51 L277.44,543.39 L277.91,543.27 L278.38,543.15 L278.85,543.02 L279.32,542.89 L279.79,542.76 L280.26,542.62 L280.73,542.48 L281.20,542.34 L281.67,542.19 L282.14,542.04 L282.61,541.88 L283.08,541.72 L283.55,541.56 L284.02,541.39 L284.48,541.22 L284.95,541.04 L285.42,540.86 L285.89,540.67 L286.36,540.48 L286.83,540.29 L287.30,540.09 L287.77,539.89 L288.24,539.68 L288.71,539.46 L289.18,539.24 L289.65,539.02 L290.12,538.79 L290.59,538.55 L291.06,538.31 L291.53,538.06 L292.00,537.81 L292.47,537.55 L292.94,537.29 L293.41,537.01 L293.88,536.74 L294.35,536.45 L294.82,536.16 L295.29,535.86 L295.76,535.56 L296.23,535.24 L296.69,534.92 L297.16,534.60 L297.63,534.26 L298.10,533.92 L298.57,533.57 L299.04,533.21 L299.51,532.84 L299.98,532.47 L300.45,532.09 L300.92,531.69 L301.39,531.29 L301.86,530.88 L302.33,530.46 L302.80,530.03 L303.27,529.60 L303.74,529.15 L304.21,528.69 L304.68,528.22 L305.15,527.74 L305.62,527.25 L306.09,526.75 L306.56,526.24 L307.03,525.72 L307.50,525.19 L307.97,524.64 L308.44,524.08 L308.90,523.51 L309.37,522.93 L309.84,522.34 L310.31,521.73 L310.78,521.11 L311.25,520.48 L311.72,519.83 L312.19,519.17 L312.66,518.50 L313.13,517.81 L313.60,517.10 L314.07,516.38 L314.54,515.65 L315.01,514.90 L315.48,514.14 L315.95,513.36 L316.42,512.56 L316.89,511.75 L317.36,510.92 L317.83,510.07 L318.30,509.21 L318.77,508.32 L319.24,507.42 L319.71,506.50 L320.18,505.57 L320.65,504.61 L321.11,503.63 L321.58,502.64 L322.05,501.62 L322.52,500.58 L322.99,499.53 L323.46,498.45 L323.93,497.35 L324.40,496.22 L324.87,495.08 L325.34,493.91 L325.81,492.72 L326.28,491.51 L326.75,490.27 L327.22,489.01 L327.69,487.72 L328.16,486.41 L328.63,485.07 L329.10,483.71 L329.57,482.32 L330.04,480.90 L330.51,479.45 L330.98,477.98 L331.45,476.48 L331.92,474.95 L332.39,473.39 L332.86,471.80 L333.32,470.18 L333.79,468.53 L334.26,466.85 L334.73,465.13 L335.20,463.39 L335.67,461.61 L336.14,459.79 L336.61,457.95 L337.08,456.07 L337.55,454.15 L338.02,452.20 L338.49,450.21 L338.96,448.18 L339.43,446.12 L339.90,444.02 L340.37,441.88 L340.84,439.70 L341.31,437.48 L341.78,435.22 L342.25,432.92 L342.72,430.57 L343.19,428.19 L343.66,425.76 L344.13,423.28 L344.60,420.76 L345.07,418.20 L345.54,415.59 L346.00,412.93 L346.47,410.23 L346.94,407.47 L347.41,404.67 L347.88,401.82 L348.35,398.92 L348.82,395.96 L349.29,392.96 L349.76,389.90 L350.23,386.78 L350.70,383.61 L351.17,380.39 L351.64,377.11 L352.11,373.77 L352.58,370.37 L353.05,366.92 L353.52,363.40 L353.99,359.83 L354.46,356.19 L354.93,352.49 L355.40,348.72 L355.87,344.89 L356.34,341.00 L356.81,337.04 L357.28,333.01 L357.75,328.91 L358.21,324.74 L358.68,320.50 L359.15,316.19 L359.62,311.81 L360.09,307.35 L360.56,302.82 L361.03,298.21 L361.50,293.52 L361.97,288.76 L362.44,283.91 L362.91,278.99 L363.38,273.98 L363.85,268.89 L364.32,263.72 L364.79,258.46 L365.26,253.11 L365.73,247.68 L366.20,242.15 L366.67,236.54 L367.14,230.83 L367.61,225.03 L368.08,219.14 L368.55,213.15 L369.02,207.06 L369.49,200.88 L369.96,194.59 L370.42,188.20 L370.89,181.71 L371.36,175.11 L371.83,168.41 L372.30,161.60 L372.77,154.69 L373.24,147.66 L373.71,140.52 L374.18,133.27 L374.65,125.90 L375.12,118.41 L375.59,110.81 L376.06,103.08 L376.53,95.24 L377.00,87.27 L377.47,79.18 L377.94,70.96 L378.41,62.61 L378.88,54.13 L379.35,45.52 L379.82,36.77 L380.29,27.89 L380.76,18.87 L381.23,9.71 L381.70,0.41 L382.17,-9.03 L382.63,-18.61" stroke="#0000ff"/>
<path d="M168.0,560.0 L168.0,547.6 L169.43,547.50 L169.90,547.50 L170.37,547.50 L170.84,547.50 L171.31,547.50 L171.78,547.50 L172.25,547.50 L172.72,547.50 L173.19,547.50 L173.65,547.50 L174.12,547.50 L174.59,547.50 L175.06,547.50 L175.53,547.50 L176.00,547.50 L176.47,547.50 L176.94,547.50 L177.41,547.50 L177.88,547.50 L178.35,547.50 L178.82,547.50 L179.29,547.50 L179.76,547.50 L180.23,547.50 L180.70,547.50 L181.17,547.50 L181.64,547.50 L182.11,547.50 L182.58,547.50 L183.05,547.50 L183.52,547.50 L183.99,547.50 L184.46,547.50 L184.93,547.50 L185.40,547.50 L185.87,547.50 L186.33,547.50 L186.80,547.50 L187.27,547.50 L187.74,547.50 L188.21,547.50 L188.68,547.50 L189.15,547.50 L189.62,547.50 L190.09,547.50 L190.56,547.50 L191.03,547.50 L191.50,547.50 L191.97,547.50 L192.44,547.49 L192.91,547.49 L193.38,547.49 L193.85,547.49 L194.32,547.49 L194.79,547.49 L195.26,547.49 L195.73,547.49 L196.20,547.49 L196.67,547.49 L197.14,547.49 L197.61,547.49 L198.08,547.49 L198.54,547.49 L199.01,547.49 L199.48,547.49 L199.95,547.49 L200.42,547.49 L200.89,547.48 L201.36,547.48 L201.83,547.48 L202.30,547.48 L202.77,547.48 L203.24,547.48 L203.71,547.48 L204.18,547.48 L204.65,547.48 L205.12,547.47 L205.59,547.47 L206.06,547.47 L206.53,547.47 L207.00,547.47 L207.47,547.47 L207.94,547.46 L208.41,547.46 L208.88,547.46 L209.35,547.46 L209.82,547.46 L210.29,547.45 L210.75,547.45 L211.22,547.45 L211.69,547.45 L212.16,547.44 L212.63,547.44 L213.10,547.44 L213.57,547.43 L214.04,547.43 L214.51,547.43 L214.98,547.42 L215.45,547.42 L215.92,547.42 L216.39,547.41 L216.86,547.41 L217.33,547.40 L217.80,547.40 L218.27,547.39 L218.74,547.39 L219.21,547.38 L219.68,547.38 L220.15,547.37 L220.62,547.37 L221.09,547.36 L221.56,547.35 L222.03,547.35 L222.50,547.34 L222.96,547.33 L223.43,547.32 L223.90,547.32 L224.37,547.31 L224.84,547.30 L225.31,547.29 L225.78,547.28 L226.25,547.27 L226.72,547.26 L227.19,547.25 L227.66,547.24 L228.13,547.23 L228.60,547.21 L229.07,547.20 L229.54,547.19 L230.01,547.18 L230.48,547.16 L230.95,547.15 L231.42,547.13 L231.89,547.12 L232.36,547.10 L232.83,547.08 L233.30,547.07 L233.77,547.05 L234.24,547.03 L234.71,547.01 L235.17,546.99 L235.64,546.97 L236.11,546.95 L236.58,546.93 L237.05,546.90 L237.52,546.88 L237.99,546.85 L238.46,546.83 L238.93,546.80 L239.40,546.77 L239.87,546.75 L240.34,546.72 L240.81,546.69 L241.28,546.65 L241.75,546.62 L242.22,546.59 L242.69,546.55 L243.16,546.52 L243.63,546.48 L244.10,546.44 L244.57,546.40 L245.04,546.36 L245.51,546.32 L245.98,546.27 L246.45,546.23 L246.92,546.18 L247.38,546.13 L247.85,546.08 L248.32,546.03 L248.79,545.98 L249.26,545.92 L249.73,545.87 L250.20,545.81 L250.67,545.75 L251.14,545.69 L251.61,545.62 L252.08,545.56 L252.55,545.49 L253.02,545.42 L253.49,545.34 L253.96,545.27 L254.43,545.19 L254.90,545.11 L255.37,545.03 L255.84,544.95 L256.31,544.86 L256.78,544.77 L257.25,544.68 L257.72,544.58 L258.19,544.48 L258.66,544.38 L259.13,544.28 L259.59,544.17 L260.06,544.06 L260.53,543.94 L261.00,543.83 L261.47,543.71 L261.94,543.58 L262.41,543.45 L262.88,543.32 L263.35,543.19 L263.82,543.05 L264.29,542.91 L264.76,542.76 L265.23,542.61 L265.70,542.45 L266.17,542.29 L266.64,542.13 L267.11,541.96 L267.58,541.78 L268.05,541.60 L268.52,541.42 L268.99,541.23 L269.46,541.04 L269.93,540.84 L270.40,540.63 L270.87,540.42 L271.34,540.21 L271.81,539.98 L272.27,539.76 L272.74,539.52 L273.21,539.28 L273.68,539.03 L274.15,538.78 L274.62,538.52 L275.09,538.25 L275.56,537.98 L276.03,537.69 L276.50,537.41 L276.97,537.11 L277.44,536.80 L277.91,536.49 L278.38,536.17 L278.85,535.84 L279.32,535.50 L279.79,535.16 L280.26,534.80 L280.73,534.44 L281.20,534.07 L281.67,533.68 L282.14,533.29 L282.61,532.89 L283.08,532.47 L283.55,532.05 L284.02,531.62 L284.48,531.17 L284.95,530.72 L285.42,530.25 L285.89,529.77 L286.36,529.28 L286.83,528.78 L287.30,528.26 L287.77,527.74 L288.24,527.20 L288.71,526.64 L289.18,526.08 L289.65,525.49 L290.12,524.90 L290.59,524.29 L291.06,523.67 L291.53,523.03 L292.00,522.38 L292.47,521.71 L292.94,521.02 L293.41,520.32 L293.88,519.60 L294.35,518.87 L294.82,518.12 L295.29,517.35 L295.76,516.56 L296.23,515.75 L296.69,514.93 L297.16,514.09 L297.63,513.22 L298.10,512.34 L298.57,511.44 L299.04,510.51 L299.51,509.57 L299.98,508.60 L300.45,507.62 L300.92,506.61 L301.39,505.57 L301.86,504.52 L302.33,503.44 L302.80,502.33 L303.27,501.20 L303.74,500.05 L304.21,498.87 L304.68,497.67 L305.15,496.43 L305.62,495.17 L306.09,493.89 L306.56,492.57 L307.03,491.23 L307.50,489.86 L307.97,488.45 L308.44,487.02 L308.90,485.56 L309.37,484.06 L309.84,482.53 L310.31,480.97 L310.78,479.38 L311.25,477.75 L311.72,476.09 L312.19,474.39 L312.66,472.66 L313.13,470.89 L313.60,469.08 L314.07,467.23 L314.54,465.35 L315.01,463.42 L315.48,461.46 L315.95,459.46 L316.42,457.41 L316.89,455.32 L317.36,453.19 L317.83,451.01 L318.30,448.79 L318.77,446.53 L319.24,444.21 L319.71,441.86 L320.18,439.45 L320.65,436.99 L321.11,434.49 L321.58,431.93 L322.05,429.32 L322.52,426.66 L322.99,423.95 L323.46,421.18 L323.93,418.36 L324.40,415.48 L324.87,412.54 L325.34,409.55 L325.81,406.49 L326.28,403.38 L326.75,400.20 L327.22,396.97 L327.69,393.67 L328.16,390.30 L328.63,386.87 L329.10,383.37 L329.57,379.81 L330.04,376.17 L330.51,372.47 L330.98,368.69 L331.45,364.84 L331.92,360.92 L332.39,356.92 L332.86,352.85 L333.32,348.70 L333.79,344.47 L334.26,340.16 L334.73,335.77 L335.20,331.30 L335.67,326.74 L336.14,322.09 L336.61,317.36 L337.08,312.54 L337.55,307.63 L338.02,302.63 L338.49,297.54 L338.96,292.35 L339.43,287.07 L339.90,281.69 L340.37,276.21 L340.84,270.63 L341.31,264.95 L341.78,259.16 L342.25,253.27 L342.72,247.27 L343.19,241.16 L343.66,234.94 L344.13,228.61 L344.60,222.16 L345.07,215.60 L345.54,208.92 L346.00,202.12 L346.47,195.20 L346.94,188.15 L347.41,180.98 L347.88,173.69 L348.35,166.26 L348.82,158.70 L349.29,151.01 L349.76,143.18 L350.23,135.22 L350.70,127.11 L351.17,118.87 L351.64,110.48 L352.11,101.94 L352.58,93.25 L353.05,84.42 L353.52,75.43 L353.99,66.28 L354.46,56.98 L354.93,47.52 L355.40,37.89 L355.87,28.10 L356.34,18.14 L356.81,8.01 L357.28,-2.29 L357.75,-12.76" stroke="#00ff00"/>
</g>
<g transform="translate(39.3,383) rotate(-90)" font-family="Liberation Sans, sans-serif" fill="#000">
<text transform="translate(-1.36,0) scale(1,1.06)" font-size="33">2</text>
<text transform="translate(17.6,0) scale(0.99,1.05)" font-size="33">V</text>
<text transform="translate(45.45,0) scale(0.82,1.02)" font-size="33" x="-6.425">(</text>
<g transform="translate(63.15,-9.45)"><path transform="skewX(-12)" fill-rule="evenodd" d="M-9.9,0 A9.9,9.3 0 1,0 9.9,0 A9.9,9.3 0 1,0 -9.9,0 Z M-6.7,0 A6.7,6.75 0 1,0 6.7,0 A6.7,6.75 0 1,0 -6.7,0 Z"/><path d="M-3.05,15.15 L3.45,-14.85" stroke="#000" stroke-width="2.95" fill="none"/></g>
<path transform="translate(0,0)" d="M74.9,0.7 C75.5,-2.3 77.2,-3.7 78.9,-1.9 C80.2,-0.5 81.6,0.7 83,-0.5 C83.9,-1.3 84.5,-2.3 84.9,-3.3" stroke="#000" stroke-width="1.9" fill="none" stroke-linecap="butt"/>
<text x="74.5" y="19.5" font-size="16" font-style="italic">K</text>
<text transform="translate(92.95,0) scale(0.82,1.02)" font-size="33" x="-4.575">)</text>
<rect x="101.1" y="-10.8" width="14.5" height="2.3"/>
<g transform="translate(139.75,-9.45)"><path transform="skewX(-12)" fill-rule="evenodd" d="M-9.9,0 A9.9,9.3 0 1,0 9.9,0 A9.9,9.3 0 1,0 -9.9,0 Z M-6.7,0 A6.7,6.75 0 1,0 6.7,0 A6.7,6.75 0 1,0 -6.7,0 Z"/><path d="M-3.05,15.15 L3.45,-14.85" stroke="#000" stroke-width="2.95" fill="none"/></g>
<rect x="144.3" y="-30.1" width="2.5" height="3.1"/>
<path transform="translate(76.5,0)" d="M74.9,0.7 C75.5,-2.3 77.2,-3.7 78.9,-1.9 C80.2,-0.5 81.6,0.7 83,-0.5 C83.9,-1.3 84.5,-2.3 84.9,-3.3" stroke="#000" stroke-width="1.9" fill="none" stroke-linecap="butt"/>
<text x="151.2" y="19.5" font-size="16" font-style="italic">K</text>
<text transform="translate(164.2,-22) scale(1,1.04)" font-size="23.5">2</text>
</g>
</svg>
<div class="leg" style="top:34.0px"><i>τ</i><span class="sb">0</span><span class="eq">=</span>0.02<span class="cm">,</span><i>τ</i><span class="sb"><svg class="g1" viewBox="0 0 1139 1536"><path transform="translate(0,1536) scale(1,-0.90)" d="M806,0 H525 V1059 Q371,915 162,846 V1101 Q272,1137 401,1237.5 T578,1472 H806 Z" fill="currentColor" stroke="currentColor" stroke-width="0"/></svg></span><span class="eq">=</span>0.03<span class="cm">,</span><i>τ</i><span class="sb">2</span><span class="eq">=</span>0.04</div><div class="leg" style="top:88.3px"><i>τ</i><span class="sb">0</span><span class="eq">=</span>0.04<span class="cm">,</span><i>τ</i><span class="sb"><svg class="g1" viewBox="0 0 1139 1536"><path transform="translate(0,1536) scale(1,-0.90)" d="M806,0 H525 V1059 Q371,915 162,846 V1101 Q272,1137 401,1237.5 T578,1472 H806 Z" fill="currentColor" stroke="currentColor" stroke-width="0"/></svg></span><span class="eq">=</span>0.06<span class="cm">,</span><i>τ</i><span class="sb">2</span><span class="eq">=</span>0.08</div><div class="leg" style="top:142.7px"><i>τ</i><span class="sb">0</span><span class="eq">=</span>0.08<span class="cm">,</span><i>τ</i><span class="sb"><svg class="g1" viewBox="0 0 1139 1536"><path transform="translate(0,1536) scale(1,-0.90)" d="M806,0 H525 V1059 Q371,915 162,846 V1101 Q272,1137 401,1237.5 T578,1472 H806 Z" fill="currentColor" stroke="currentColor" stroke-width="0"/></svg></span><span class="eq">=</span>0.<svg class="g1" viewBox="0 0 1139 1536"><path transform="translate(0,1536) scale(1,-0.90)" d="M806,0 H525 V1059 Q371,915 162,846 V1101 Q272,1137 401,1237.5 T578,1472 H806 Z" fill="currentColor" stroke="currentColor" stroke-width="0"/></svg>0<span class="cm">,</span><i>τ</i><span class="sb">2</span><span class="eq">=</span>0.<svg class="g1" viewBox="0 0 1139 1536"><path transform="translate(0,1536) scale(1,-0.90)" d="M806,0 H525 V1059 Q371,915 162,846 V1101 Q272,1137 401,1237.5 T578,1472 H806 Z" fill="currentColor" stroke="currentColor" stroke-width="0"/></svg>2</div><div class="leg" style="top:197.0px"><i>τ</i><span class="sb">0</span><span class="eq">=</span>0.<svg class="g1" viewBox="0 0 1139 1536"><path transform="translate(0,1536) scale(1,-0.90)" d="M806,0 H525 V1059 Q371,915 162,846 V1101 Q272,1137 401,1237.5 T578,1472 H806 Z" fill="currentColor" stroke="currentColor" stroke-width="0"/></svg>2<span class="cm">,</span><i>τ</i><span class="sb"><svg class="g1" viewBox="0 0 1139 1536"><path transform="translate(0,1536) scale(1,-0.90)" d="M806,0 H525 V1059 Q371,915 162,846 V1101 Q272,1137 401,1237.5 T578,1472 H806 Z" fill="currentColor" stroke="currentColor" stroke-width="0"/></svg></span><span class="eq">=</span>0.<svg class="g1" viewBox="0 0 1139 1536"><path transform="translate(0,1536) scale(1,-0.90)" d="M806,0 H525 V1059 Q371,915 162,846 V1101 Q272,1137 401,1237.5 T578,1472 H806 Z" fill="currentColor" stroke="currentColor" stroke-width="0"/></svg>5<span class="cm">,</span><i>τ</i><span class="sb">2</span><span class="eq">=</span>0.22</div>
<div class="yt" style="top:546.45px;right:596.6px">0</div><div class="yt" style="top:427.65px">5.0<span class="tx">×</span><svg class="g1" viewBox="0 0 1139 1536" style="margin-right:-0.5px;"><path transform="translate(0,1536) scale(1,-0.90)" d="M763,0 H583 V1147 Q518,1085 412.5,1023 T223,930 V1104 Q373,1174.5 485,1275 T644,1470 H763 Z" fill="currentColor" stroke="currentColor" stroke-width="21"/></svg>0<span class="sp">8</span></div><div class="yt" style="top:307.85px"><svg class="g1" viewBox="0 0 1139 1536"><path transform="translate(0,1536) scale(1,-0.90)" d="M763,0 H583 V1147 Q518,1085 412.5,1023 T223,930 V1104 Q373,1174.5 485,1275 T644,1470 H763 Z" fill="currentColor" stroke="currentColor" stroke-width="21"/></svg>.0<span class="tx">×</span><svg class="g1" viewBox="0 0 1139 1536" style="margin-right:-0.5px;"><path transform="translate(0,1536) scale(1,-0.90)" d="M763,0 H583 V1147 Q518,1085 412.5,1023 T223,930 V1104 Q373,1174.5 485,1275 T644,1470 H763 Z" fill="currentColor" stroke="currentColor" stroke-width="21"/></svg>0<span class="sp">9</span></div><div class="yt" style="top:188.05px"><svg class="g1" viewBox="0 0 1139 1536"><path transform="translate(0,1536) scale(1,-0.90)" d="M763,0 H583 V1147 Q518,1085 412.5,1023 T223,930 V1104 Q373,1174.5 485,1275 T644,1470 H763 Z" fill="currentColor" stroke="currentColor" stroke-width="21"/></svg>.5<span class="tx">×</span><svg class="g1" viewBox="0 0 1139 1536" style="margin-right:-0.5px;"><path transform="translate(0,1536) scale(1,-0.90)" d="M763,0 H583 V1147 Q518,1085 412.5,1023 T223,930 V1104 Q373,1174.5 485,1275 T644,1470 H763 Z" fill="currentColor" stroke="currentColor" stroke-width="21"/></svg>0<span class="sp">9</span></div><div class="yt" style="top:68.25px">2.0<span class="tx">×</span><svg class="g1" viewBox="0 0 1139 1536" style="margin-right:-0.5px;"><path transform="translate(0,1536) scale(1,-0.90)" d="M763,0 H583 V1147 Q518,1085 412.5,1023 T223,930 V1104 Q373,1174.5 485,1275 T644,1470 H763 Z" fill="currentColor" stroke="currentColor" stroke-width="21"/></svg>0<span class="sp">9</span></div>
<div class="xt" style="left:168.10px">0</div><div class="xt" style="left:281.00px">2</div><div class="xt" style="left:393.90px">4</div><div class="xt" style="left:506.80px">6</div><div class="xt" style="left:619.70px">8</div><div class="xt" style="left:732.80px"><svg class="g1" viewBox="0 0 1139 1536" style="margin-right:-0.5px;top:-0.6px;"><path transform="translate(0,1536) scale(1,-0.90)" d="M763,0 H583 V1147 Q518,1085 412.5,1023 T223,930 V1104 Q373,1174.5 485,1275 T644,1470 H763 Z" fill="currentColor" stroke="currentColor" stroke-width="21"/></svg>0</div>
<div class="xlab">t</div>

</div></body></html>
